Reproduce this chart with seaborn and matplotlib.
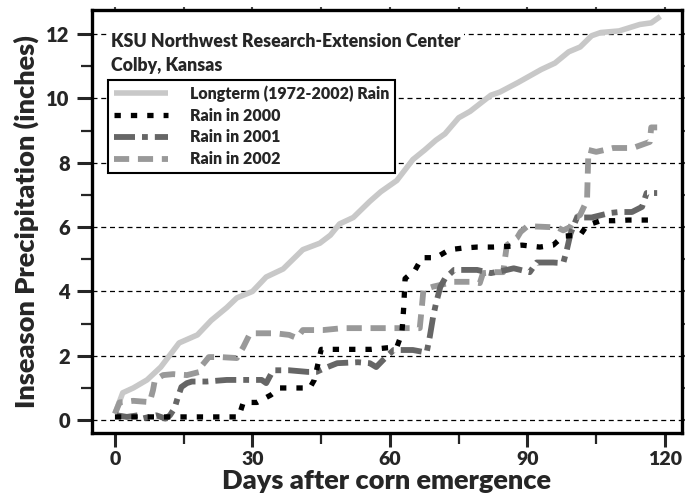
import matplotlib
matplotlib.use("Agg")
import matplotlib.pyplot as plt
import seaborn as sns

# Cumulative in-season rainfall
longterm_days = [0, 1.7, 4, 7, 10, 14, 18, 21, 24.4, 26.6, 30, 33, 36.7, 41, 44.7, 47, 49, 52,
                 55.6, 58, 61.5, 65, 67.6, 70, 72, 75, 77.5, 82, 84, 88, 90.5, 93, 96, 99,
                 101.5, 104, 106, 110, 114.5, 117, 119]
longterm_rain = [0.2, 0.85, 1.0, 1.25, 1.65, 2.4, 2.65, 3.1, 3.5, 3.8, 4.0, 4.45, 4.7, 5.3, 5.5,
                 5.75, 6.1, 6.3, 6.8, 7.1, 7.45, 8.1, 8.4, 8.7, 8.9, 9.4, 9.6, 10.1, 10.2, 10.5,
                 10.7, 10.9, 11.1, 11.45, 11.6, 11.95, 12.05, 12.1, 12.3, 12.35, 12.55]

days_2000 = [0, 27, 28, 31, 34, 36, 40, 42.5, 43.5, 45, 49, 53, 56, 59.5, 61.5, 62.6, 63, 63.3,
             65.5, 67, 70, 73, 76, 79, 82.5, 85.7, 88.8, 92.7, 95.6, 97.8, 101.5, 103, 106, 109,
             112, 117]
rain_2000 = [0.1, 0.1, 0.55, 0.55, 0.78, 1.0, 1.0, 1.0, 1.25, 2.2, 2.2, 2.2, 2.2, 2.25, 2.27, 2.7,
             3.5, 4.4, 4.67, 5.05, 5.05, 5.3, 5.35, 5.38, 5.38, 5.4, 5.44, 5.38, 5.44, 5.72, 5.75,
             6.06, 6.2, 6.2, 6.22, 6.22]

days_2001 = [0.4, 2.6, 5, 6, 9, 11, 12, 13, 13.7, 14.5, 15.7, 16.8, 20, 24.4, 27, 30, 32, 33,
             34.5, 38, 42, 44, 45.5, 48.5, 53, 55.6, 57, 58.5, 60.8, 65, 68, 68.7, 69.4, 70, 71,
             72, 74, 77, 79, 82, 85.5, 87, 90.5, 92, 95.6, 97.8, 98.6, 99.4, 100.8, 104, 108,
             110, 112.8, 115, 116, 118.3]
rain_2001 = [0.15, 0.1, 0.15, 0.05, 0.15, 0.05, 0.15, 0.37, 0.7, 1.03, 1.15, 1.2, 1.2, 1.25, 1.25,
             1.25, 1.25, 1.15, 1.55, 1.55, 1.5, 1.5, 1.6, 1.77, 1.8, 1.77, 1.65, 1.87, 2.18, 2.18,
             2.1, 2.6, 3.2, 3.6, 4.15, 4.4, 4.67, 4.67, 4.67, 4.57, 4.67, 4.72, 4.6, 4.9, 4.9,
             4.88, 5.3, 5.8, 6.3, 6.3, 6.44, 6.47, 6.47, 6.63, 7.06, 7.06]

days_2002 = [0, 1, 4, 7.6, 8.3, 8.7, 10.5, 12.7, 15.7, 18.5, 19, 20.5, 23, 26.6, 28, 29.5, 33, 35,
             38, 39.7, 41, 45.4, 49.7, 55, 60.7, 63.7, 66.5, 67, 67.3, 69.4, 74, 77.5, 79.6, 80.3,
             83, 84.7, 85.5, 87.7, 88.5, 90, 95, 96.4, 97.8, 99.3, 100.4, 101.5, 103, 103.3, 105,
             108.7, 113, 116.7, 117, 118.3]
rain_2002 = [0.2, 0.55, 0.6, 0.56, 0.93, 1.24, 1.4, 1.43, 1.4, 1.5, 1.7, 1.96, 1.96, 1.93, 2.27,
             2.7, 2.7, 2.7, 2.65, 2.55, 2.8, 2.8, 2.86, 2.86, 2.86, 2.86, 2.86, 3.58, 4.05, 4.15,
             4.3, 4.3, 4.26, 4.57, 4.6, 4.6, 5.44, 5.66, 5.85, 6.03, 6.0, 6.0, 5.9, 6.0, 6.28,
             6.38, 6.84, 8.4, 8.34, 8.46, 8.46, 8.65, 9.1, 9.1]

x_ticks = [0, 30, 60, 90, 120]
y_ticks = [0, 2, 4, 6, 8, 10, 12]

sns.set_style("ticks")
plt.rcParams['font.family'] = ['Lato', 'DejaVu Sans']
W = 'heavy'

fig = plt.figure(figsize=(6.94, 5.0), dpi=100)
ax = fig.add_axes([0.1326, 0.134, 0.85, 0.846])

# gridlines at major y ticks
for yv in y_ticks:
    ax.axhline(yv, color='black', lw=0.9, ls=(0, (4, 3)), zorder=1)

line_kw = dict(ax=ax, sort=False, estimator=None, zorder=3)
sns.lineplot(x=longterm_days, y=longterm_rain, color='#c8c8c8', lw=4,
             solid_capstyle='butt', label='Longterm (1972-2002) Rain', **line_kw)
sns.lineplot(x=days_2002, y=rain_2002, color='#999999', lw=4.2,
             ls=(0, (2.6, 1.5)), dash_capstyle='butt', label='Rain in 2002', **line_kw)
sns.lineplot(x=days_2001, y=rain_2001, color='#666666', lw=4.2,
             ls=(0, (3.6, 1.2, 1.0, 1.2)), dash_capstyle='butt', label='Rain in 2001', **line_kw)
sns.lineplot(x=days_2000, y=rain_2000, color='black', lw=3.8,
             ls=(0, (1.2, 1.9)), dash_capstyle='butt', label='Rain in 2000', **line_kw)

ax.set_xlim(-5, 123.7)
ax.set_ylim(-0.4, 12.75)
ax.set_xticks(x_ticks)
ax.set_xticks([15, 45, 75, 105], minor=True)
ax.set_yticks(y_ticks)
ax.set_yticks([1, 3, 5, 7, 9, 11], minor=True)
ax.tick_params(axis='both', which='major', length=11, width=2.2, direction='out',
               labelsize=14.5, pad=5)
ax.tick_params(axis='both', which='minor', length=8, width=1.6, direction='out')
ax.tick_params(axis='x', which='major', length=10, pad=3, labelsize=14)
for lab in ax.get_xticklabels() + ax.get_yticklabels():
    lab.set_fontweight(W)

for sp in ax.spines.values():
    sp.set_linewidth(2.4)
    sp.set_color('black')

# small tick marks on the top and right edges of the frame
ax_r = ax.secondary_yaxis('right')
ax_r.set_yticks(list(range(0, 13)))
ax_r.tick_params(length=2.5, width=1.5, direction='out', labelright=False, color='#444444')
ax_r.spines['right'].set_visible(False)
ax_t = ax.secondary_xaxis('top')
ax_t.set_xticks([0, 15, 30, 45, 60, 75, 90, 105, 120])
ax_t.tick_params(length=2.5, width=1.5, direction='out', labeltop=False, color='#444444')
ax_t.spines['top'].set_visible(False)

ax.set_xlabel('Days after corn emergence', fontsize=19.5, fontweight=W, labelpad=1)
ax.set_ylabel('Inseason Precipitation (inches)', fontsize=19.5, fontweight=W, labelpad=5)

ax.text(-0.9, 11.76, 'KSU Northwest Research-Extension Center', fontsize=12.8, fontweight=W,
        va='center', ha='left', zorder=4,
        bbox=dict(facecolor='white', edgecolor='none', pad=3))
ax.text(-0.9, 11.03, 'Colby, Kansas', fontsize=12.8, fontweight=W, va='center', ha='left',
        zorder=4, bbox=dict(facecolor='white', edgecolor='none', pad=3))

handles, labels = ax.get_legend_handles_labels()
order = [labels.index(l) for l in ['Longterm (1972-2002) Rain', 'Rain in 2000',
                                   'Rain in 2001', 'Rain in 2002']]
leg = ax.legend([handles[i] for i in order], [labels[i] for i in order],
                loc='upper left', bbox_to_anchor=(0.027, 0.835), frameon=True,
                fancybox=False, framealpha=1, edgecolor='black',
                prop={'weight': W, 'size': 11.5}, handlelength=3.4,
                handletextpad=1.4, labelspacing=0.36, borderpad=0.35, borderaxespad=0)
leg.get_frame().set_linewidth(1.5)
leg.set_zorder(5)

fig.savefig('out.png', dpi=100)
